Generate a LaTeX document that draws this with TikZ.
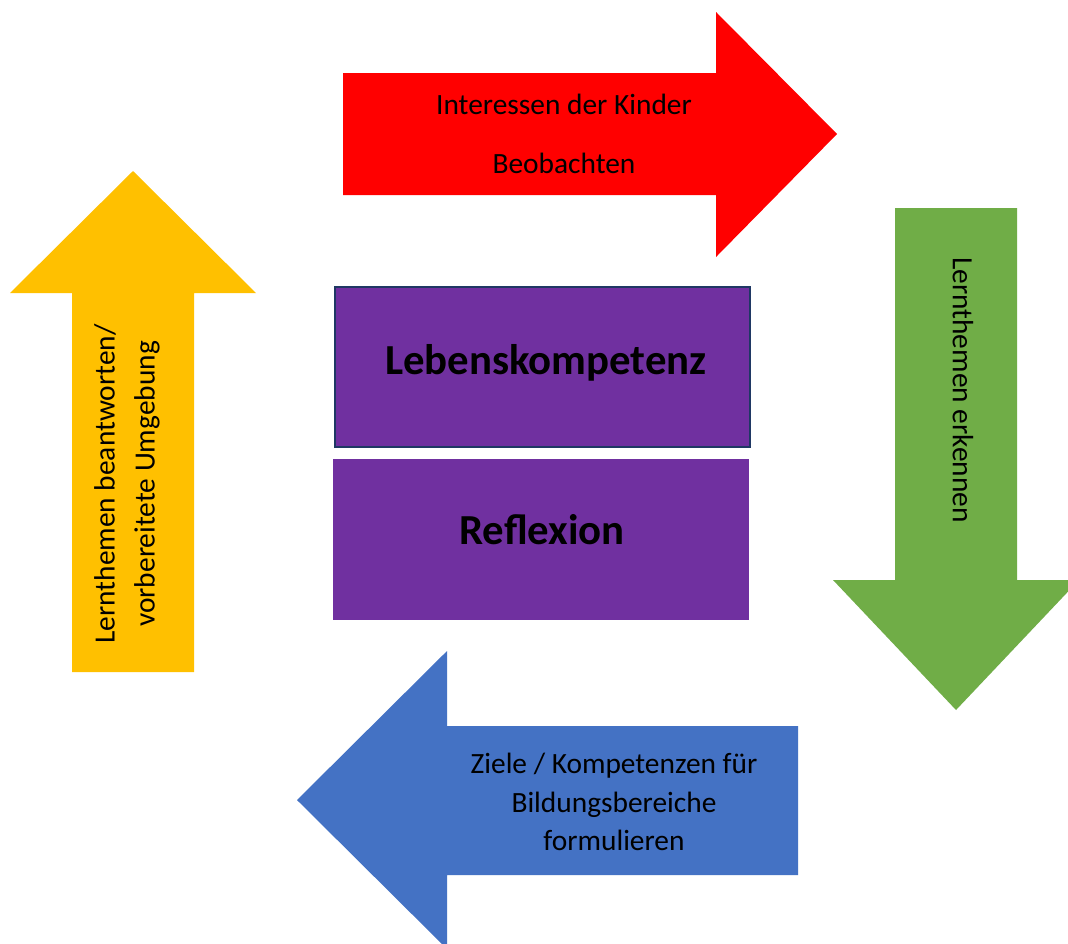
\documentclass[tikz,border=0pt]{standalone}
\usepackage{fontspec}
\setmainfont{Carlito}
\definecolor{pfeilrot}{HTML}{FF0000}
\definecolor{pfeilgruen}{HTML}{70AD47}
\definecolor{pfeilblau}{HTML}{4472C4}
\definecolor{pfeilgelb}{HTML}{FFC000}
\definecolor{boxlila}{HTML}{7030A0}
\definecolor{boxrand}{HTML}{1F3864}
\begin{document}
\begin{tikzpicture}[x=0.5pt, y=-0.5pt,
    pfeiltext/.style={font=\fontsize{14.7}{19.3}\selectfont, align=center},
    boxtext/.style={font=\fontsize{21.4}{24}\selectfont\bfseries}]
    \useasboundingbox (0, 0) rectangle (1068, 943);
    \fill [white] (0, 0) rectangle (1068, 943);
    % arrows
    \fill [pfeilrot] (343, 73) -- (716, 73) -- (716, 12) -- (837, 134) -- (716, 257) -- (716, 195) -- (343, 195) -- cycle;
    \fill [pfeilgruen] (895, 208) -- (1017, 208) -- (1017, 580) -- (1079, 580) -- (956, 710) -- (833, 580) -- (895, 580) -- cycle;
    \fill [pfeilblau] (798, 726) -- (798, 875) -- (447, 875) -- (447, 949) -- (297, 800) -- (447, 651) -- (447, 726) -- cycle;
    \fill [pfeilgelb] (72, 672) -- (72, 293) -- (10, 293) -- (133, 171) -- (256, 293) -- (194, 293) -- (194, 672) -- cycle;
    % boxes
    \filldraw [fill=boxlila, draw=boxrand, line width=1pt] (335, 287) rectangle (750, 447);
    \fill [boxlila] (333, 459) rectangle (749, 620);
    % texts
    \node [pfeiltext, font=\fontsize{14.7}{29.5}\selectfont] (interessen) at (564, 134) {Interessen der Kinder\\Beobachten};
    \node [pfeiltext, rotate=-90] (erkennen) at (963, 390) {Lernthemen erkennen};
    \node [pfeiltext] (ziele) at (614, 802) {Ziele / Kompetenzen für\\Bildungsbereiche\\formulieren};
    \node [pfeiltext, font=\fontsize{14.7}{20}\selectfont, rotate=90] (beantworten) at (127, 484) {Lernthemen beantworten/\\vorbereitete Umgebung};
    \node [boxtext] (lebenskompetenz) at (546, 363) {Lebenskompetenz};
    \node [boxtext] (reflexion) at (542, 530) {Reflexion};
\end{tikzpicture}
\end{document}
